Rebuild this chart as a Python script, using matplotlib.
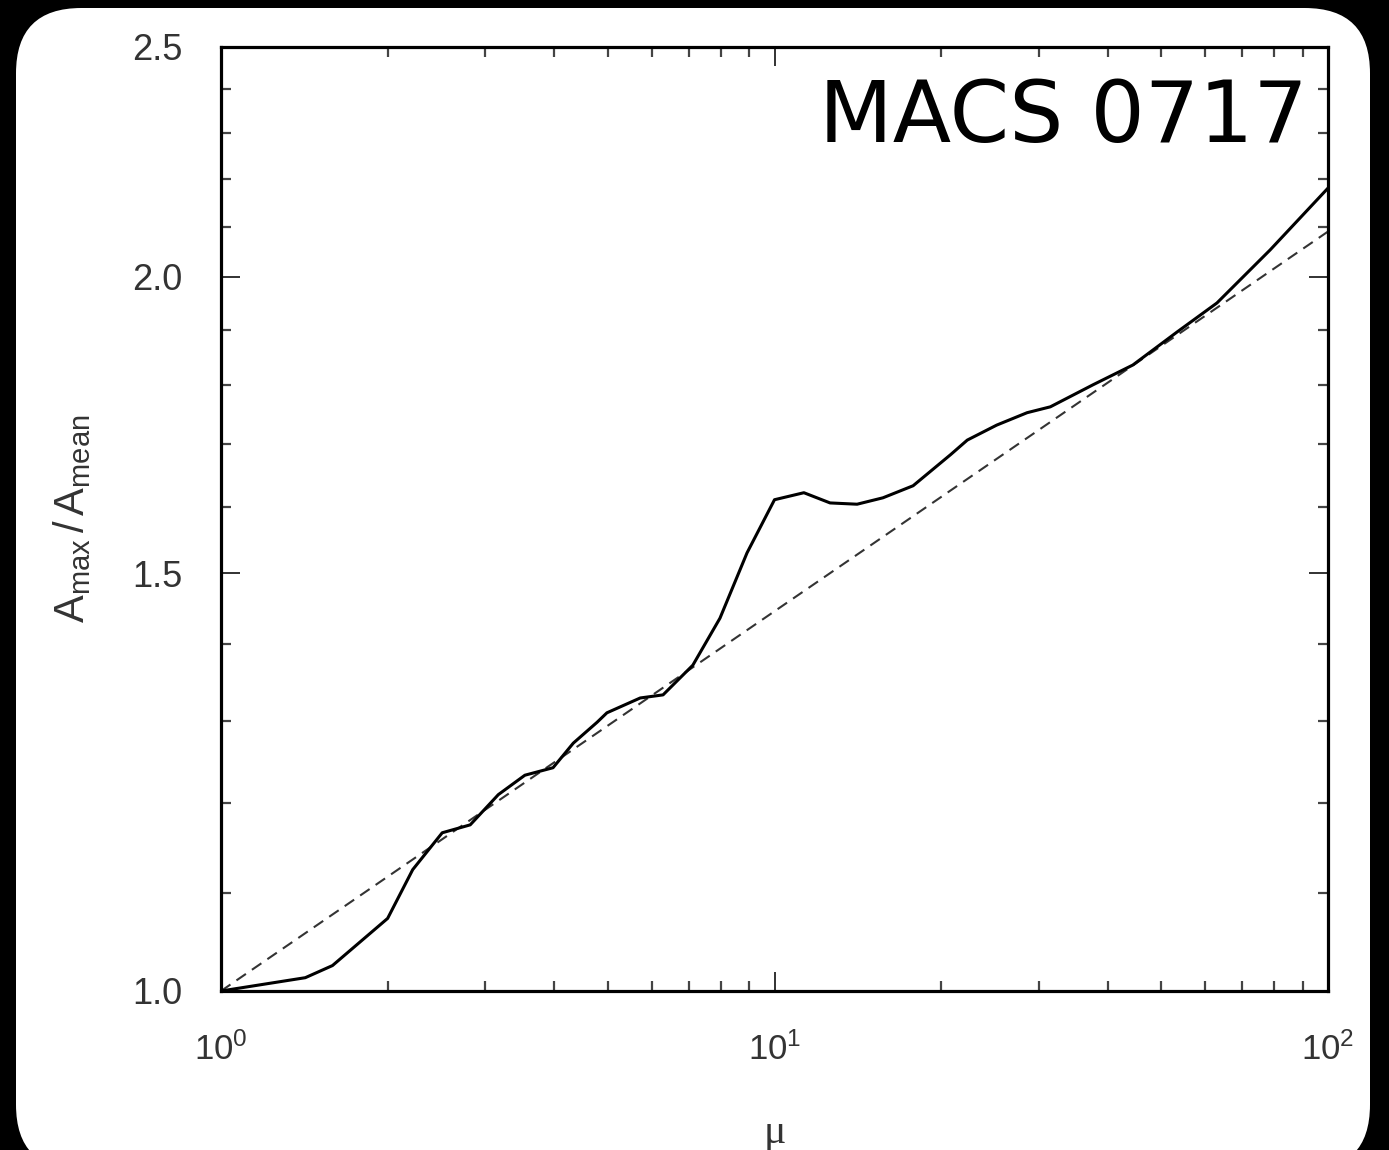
import numpy as np
import matplotlib
matplotlib.use("Agg")
import matplotlib.pyplot as plt
from matplotlib.patches import FancyBboxPatch
from matplotlib.ticker import FixedLocator, FixedFormatter, LogLocator, NullFormatter

plt.rcParams['font.family'] = ['Liberation Sans', 'DejaVu Sans']
plt.rcParams['mathtext.fontset'] = 'custom'
plt.rcParams['mathtext.rm'] = 'Liberation Sans'
plt.rcParams['mathtext.it'] = 'Liberation Sans:italic'

# Amax/Amean as a function of magnification mu (solid curve)
mu = [1.0, 1.42, 1.59, 2.0, 2.22, 2.51, 2.82, 3.17, 3.54, 3.98, 4.33, 4.78,
      4.98, 5.72, 6.29, 7.12, 7.97, 8.92, 10.0, 11.3, 12.6, 14.1, 15.7, 17.8,
      20.8, 22.3, 25.2, 28.6, 31.5, 37.6, 44.4, 53.4, 63.0, 78.6, 100.0]
a_ratio = [1.0, 1.013, 1.025, 1.073, 1.125, 1.166, 1.175, 1.210, 1.233, 1.242,
           1.272, 1.298, 1.310, 1.329, 1.333, 1.372, 1.436, 1.530, 1.611, 1.622,
           1.606, 1.604, 1.614, 1.633, 1.683, 1.707, 1.732, 1.753, 1.763, 1.801,
           1.836, 1.896, 1.950, 2.053, 2.180]

# power-law reference (dashed)
ref_mu = [1.0, 100.0]
ref_ratio = [1.0, 2.09]

y_major = [1.0, 1.5, 2.0, 2.5]
y_major_labels = ['1.0', '1.5', '2.0', '2.5']
y_minor = [1.1, 1.2, 1.3, 1.4, 1.6, 1.7, 1.8, 1.9, 2.1, 2.2, 2.3, 2.4]

W, H = 1389, 1150
fig = plt.figure(figsize=(W / 100, H / 100), dpi=100, facecolor='black')

# white rounded card behind everything
card = FancyBboxPatch((16 / W, -20 / H), 1354 / W, 1162 / H,
                      boxstyle="round,pad=0,rounding_size=0.047",
                      transform=fig.transFigure, facecolor='white',
                      edgecolor='none', mutation_aspect=W / H, zorder=-10)
fig.patches.append(card)

ax = fig.add_axes([221 / W, (H - 991) / H, (1328 - 221) / W, (991 - 47) / H])
ax.set_facecolor('white')

ax.plot(ref_mu, ref_ratio, color='#333333', lw=1.5, ls=(0, (5.5, 3.5)))
ax.plot(mu, a_ratio, color='black', lw=2.2)

ax.set_xscale('log')
ax.set_yscale('log')
ax.set_xlim(1, 100)
ax.set_ylim(1.0, 2.5)

ax.yaxis.set_major_locator(FixedLocator(y_major))
ax.yaxis.set_major_formatter(FixedFormatter(y_major_labels))
ax.yaxis.set_minor_locator(FixedLocator(y_minor))
ax.yaxis.set_minor_formatter(NullFormatter())
ax.xaxis.set_major_locator(LogLocator(base=10, numticks=5))
ax.xaxis.set_minor_locator(LogLocator(base=10, subs=np.arange(2, 10), numticks=5))
ax.xaxis.set_minor_formatter(NullFormatter())

for s in ax.spines.values():
    s.set_linewidth(2.3)
    s.set_color('black')

ax.tick_params(which='both', direction='in', top=True, right=True,
               colors='#222222', labelcolor='#333333')
ax.tick_params(axis='y', which='major', length=14, width=1.3, labelsize=26, pad=28)
ax.tick_params(axis='x', which='major', length=14, width=1.3, labelsize=25, pad=30)
ax.tick_params(which='minor', length=7, width=1.6, colors='#444444')

ax.set_xlabel('μ', fontsize=30, family=['Liberation Serif', 'DejaVu Serif'],
              color='#333333', labelpad=33)
ax.set_ylabel(r'$\mathrm{A_{max}\,/\,A_{mean}}$', fontsize=30, color='#333333',
              labelpad=28)

ax.text(0.9815, 0.899, 'MACS 0717', transform=ax.transAxes, ha='right',
        va='baseline', fontsize=61.5, family='DejaVu Sans', color='black')

fig.savefig('out.png', dpi=100, facecolor='black')
